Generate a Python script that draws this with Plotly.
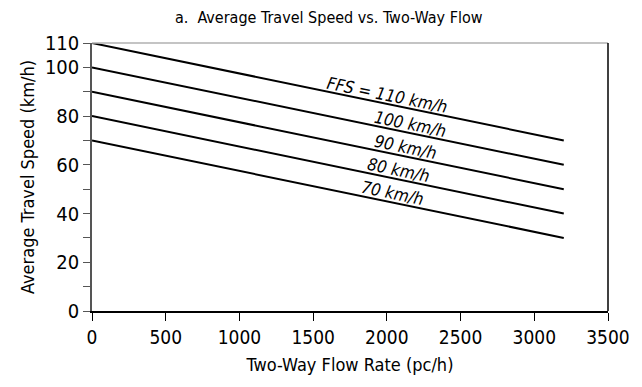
import math
import plotly.graph_objects as go

# Speed-flow relationship for two-lane highways, one line per free-flow speed
flow_points = [0, 3200]                 # two-way flow rate (pc/h) at line ends
ffs_values = [110, 100, 90, 80, 70]     # free-flow speed (km/h), speed at zero flow
end_speeds = [70, 60, 50, 40, 30]       # average travel speed at 3200 pc/h
line_labels = ["FFS = 110 km/h", "100 km/h", "90 km/h", "80 km/h", "70 km/h"]
label_flow = [1995, 2150, 2116, 2069, 2029]   # where each label sits along its line

y_tickvals = list(range(0, 111, 10))
y_ticktext = ["0", "", "20", "", "40", "", "60", "", "80", "", "100", "110"]

FONT = "DejaVu Sans Condensed, DejaVu Sans, sans-serif"

W, H = 642, 387
M = dict(l=92, r=29, t=43, b=76)
X_RANGE = [0, 3500]
Y_RANGE = [0, 110]

fig = go.Figure()
for start, end in zip(ffs_values, end_speeds):
    fig.add_trace(go.Scatter(
        x=flow_points, y=[start, end], mode="lines",
        line=dict(color="black", width=2), showlegend=False, hoverinfo="skip",
    ))

# Rotate labels to follow the on-screen slope of the lines
px_per_x = (W - M["l"] - M["r"]) / (X_RANGE[1] - X_RANGE[0])
px_per_y = (H - M["t"] - M["b"]) / (Y_RANGE[1] - Y_RANGE[0])
for text, fx, start, end in zip(line_labels, label_flow, ffs_values, end_speeds):
    slope = (end - start) / (flow_points[1] - flow_points[0])
    angle = math.degrees(math.atan(-slope * px_per_y / px_per_x))
    y_on_line = start + slope * (fx - flow_points[0])
    off = 9
    fig.add_annotation(
        x=fx, y=y_on_line, xref="x", yref="y",
        text=f"<i>{text}</i>", showarrow=False, textangle=angle,
        xshift=off * math.sin(math.radians(angle)),
        yshift=off * math.cos(math.radians(angle)),
        font=dict(family=FONT, size=17, color="black"),
    )

# top border (light grey) and right border
fig.add_shape(type="line", xref="paper", yref="paper", x0=0, x1=1, y0=1, y1=1,
              line=dict(color="#b0b0b0", width=1.5))
fig.add_shape(type="line", xref="paper", yref="paper", x0=1, x1=1, y0=0, y1=1,
              line=dict(color="black", width=1.5))

fig.update_layout(
    width=W, height=H, margin=M,
    paper_bgcolor="white", plot_bgcolor="white",
    font=dict(family=FONT, size=18, color="black"),
    title=dict(text="a.  Average Travel Speed vs. Two-Way Flow",
               x=0.512, xref="container", xanchor="center", y=0.955, yanchor="middle",
               font=dict(family=FONT, size=16, color="black")),
    xaxis=dict(range=X_RANGE, tickvals=list(range(0, 3501, 500)),
               ticks="outside", ticklen=8, tickcolor="black", showgrid=False,
               zeroline=False, showline=True, linecolor="black", linewidth=1.5,
               title=dict(text="Two-Way Flow Rate (pc/h)", standoff=12,
                          font=dict(family=FONT, size=18)),
               tickfont=dict(family=FONT, size=19)),
    yaxis=dict(range=Y_RANGE, tickvals=y_tickvals, ticktext=y_ticktext,
               ticks="outside", ticklen=7, tickcolor="#555", showgrid=False,
               zeroline=False, showline=True, linecolor="#555", linewidth=1.5,
               title=dict(text="Average Travel Speed (km/h)", standoff=6,
                          font=dict(family=FONT, size=18)),
               tickfont=dict(family=FONT, size=20)),
)

fig.write_html("out.html")
